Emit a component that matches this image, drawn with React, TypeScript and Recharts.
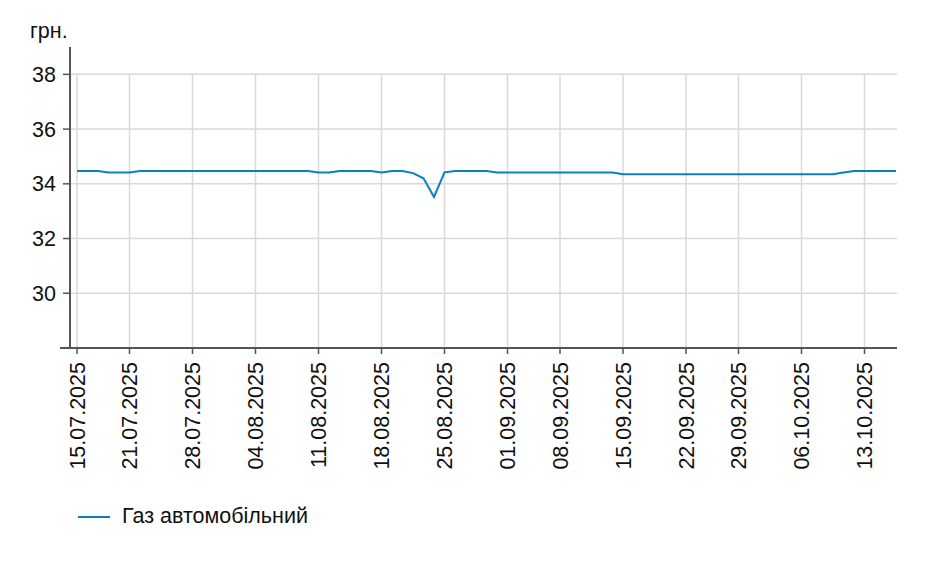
import { LineChart, Line, XAxis, YAxis, ReferenceLine } from "recharts"

const dates = [
  "15.07.2025", "16.07.2025", "17.07.2025", "18.07.2025", "19.07.2025",
  "21.07.2025", "22.07.2025", "23.07.2025", "24.07.2025", "25.07.2025", "26.07.2025",
  "28.07.2025", "29.07.2025", "30.07.2025", "31.07.2025", "01.08.2025", "02.08.2025",
  "04.08.2025", "05.08.2025", "06.08.2025", "07.08.2025", "08.08.2025", "09.08.2025",
  "11.08.2025", "12.08.2025", "13.08.2025", "14.08.2025", "15.08.2025", "16.08.2025",
  "18.08.2025", "19.08.2025", "20.08.2025", "21.08.2025", "22.08.2025", "23.08.2025",
  "25.08.2025", "26.08.2025", "27.08.2025", "28.08.2025", "29.08.2025", "30.08.2025",
  "01.09.2025", "02.09.2025", "03.09.2025", "04.09.2025", "05.09.2025",
  "08.09.2025", "09.09.2025", "10.09.2025", "11.09.2025", "12.09.2025", "13.09.2025",
  "15.09.2025", "16.09.2025", "17.09.2025", "18.09.2025", "19.09.2025", "20.09.2025",
  "22.09.2025", "23.09.2025", "24.09.2025", "25.09.2025", "26.09.2025",
  "29.09.2025", "30.09.2025", "01.10.2025", "02.10.2025", "03.10.2025", "04.10.2025",
  "06.10.2025", "07.10.2025", "08.10.2025", "09.10.2025", "10.10.2025", "11.10.2025",
  "13.10.2025", "14.10.2025", "15.10.2025", "16.10.2025",
]

const gasPrice = [
  34.47, 34.47, 34.47, 34.41, 34.41,
  34.41, 34.47, 34.47, 34.47, 34.47, 34.47,
  34.47, 34.47, 34.47, 34.47, 34.47, 34.47,
  34.47, 34.47, 34.47, 34.47, 34.47, 34.47,
  34.41, 34.41, 34.47, 34.47, 34.47, 34.47,
  34.41, 34.47, 34.47, 34.39, 34.2, 33.52,
  34.42, 34.47, 34.47, 34.47, 34.47, 34.41,
  34.41, 34.41, 34.41, 34.41, 34.41,
  34.41, 34.41, 34.41, 34.41, 34.41, 34.41,
  34.35, 34.35, 34.35, 34.35, 34.35, 34.35,
  34.35, 34.35, 34.35, 34.35, 34.35,
  34.35, 34.35, 34.35, 34.35, 34.35, 34.35,
  34.35, 34.35, 34.35, 34.35, 34.41, 34.47,
  34.47, 34.47, 34.47, 34.47,
]

const tickDates = [
  "15.07.2025", "21.07.2025", "28.07.2025", "04.08.2025", "11.08.2025",
  "18.08.2025", "25.08.2025", "01.09.2025", "08.09.2025", "15.09.2025",
  "22.09.2025", "29.09.2025", "06.10.2025", "13.10.2025",
]

const yTicks = [30, 32, 34, 36, 38]

const data = dates.map((d, i) => ({ i, date: d, price: gasPrice[i] }))
const xTicks = tickDates.map((d) => dates.indexOf(d))

const font = "Arial, 'Liberation Sans', sans-serif"
const fontSize = 21.5
const axisColor = "#555555"
const gridColor = "#d9d9d9"
const lineColor = "#0b7fc2"

function DateTick(props: any) {
  const { x, y, payload } = props
  return (
    <text
      x={x}
      y={y}
      transform={`rotate(-90, ${x}, ${y})`}
      textAnchor="end"
      dy="0.35em"
      fill="#111"
      fontSize={fontSize}
      fontFamily={font}
    >
      {dates[payload.value]}
    </text>
  )
}

export default function App() {
  return (
    <div style={{ position: "absolute", left: 0, top: 0, width: 935, height: 566, background: "#fff", fontFamily: font }}>
      <div style={{ position: "absolute", left: 30, top: 19, fontSize, color: "#111" }}>грн.</div>
      <LineChart
        width={935}
        height={566}
        data={data}
        margin={{ top: 47, right: 38, bottom: 88, left: 0 }}
      >
        {/* grid drawn by hand: vertical lines stop at the 38 level */}
        {yTicks.map((v) => (
          <ReferenceLine key={"h" + v} y={v} stroke={gridColor} strokeWidth={1.5} />
        ))}
        {xTicks.map((t) => (
          <ReferenceLine
            key={"v" + t}
            segment={[{ x: t, y: 28 }, { x: t, y: 38 }]}
            stroke={gridColor}
            strokeWidth={1.5}
          />
        ))}
        <ReferenceLine
          segment={[{ x: -1.62, y: 28 }, { x: 78.1, y: 28 }]}
          stroke={axisColor}
          strokeWidth={2}
          ifOverflow="visible"
        />
        <XAxis
          dataKey="i"
          type="number"
          domain={[0, 78]}
          ticks={xTicks}
          padding={{ left: 7, right: 1 }}
          height={130}
          axisLine={false}
          tickLine={{ stroke: axisColor, strokeWidth: 1.5 }}
          tickSize={6}
          tickMargin={8}
          tick={<DateTick />}
          interval={0}
        />
        <YAxis
          domain={[28, 39]}
          ticks={yTicks}
          width={70}
          axisLine={{ stroke: axisColor, strokeWidth: 2 }}
          tickLine={{ stroke: axisColor, strokeWidth: 1.5 }}
          tickSize={7}
          tickMargin={7}
          tick={{ fill: "#111", fontSize, fontFamily: font }}
          allowDataOverflow
        />
        <Line
          type="linear"
          dataKey="price"
          stroke={lineColor}
          strokeWidth={2}
          dot={false}
          isAnimationActive={false}
        />
      </LineChart>
      <div style={{ position: "absolute", left: 78, top: 504, display: "flex", alignItems: "center", fontSize, color: "#111" }}>
        <span style={{ display: "inline-block", width: 32, height: 2, background: lineColor, marginRight: 12 }} />
        <span>Газ автомобільний</span>
      </div>
    </div>
  )
}
